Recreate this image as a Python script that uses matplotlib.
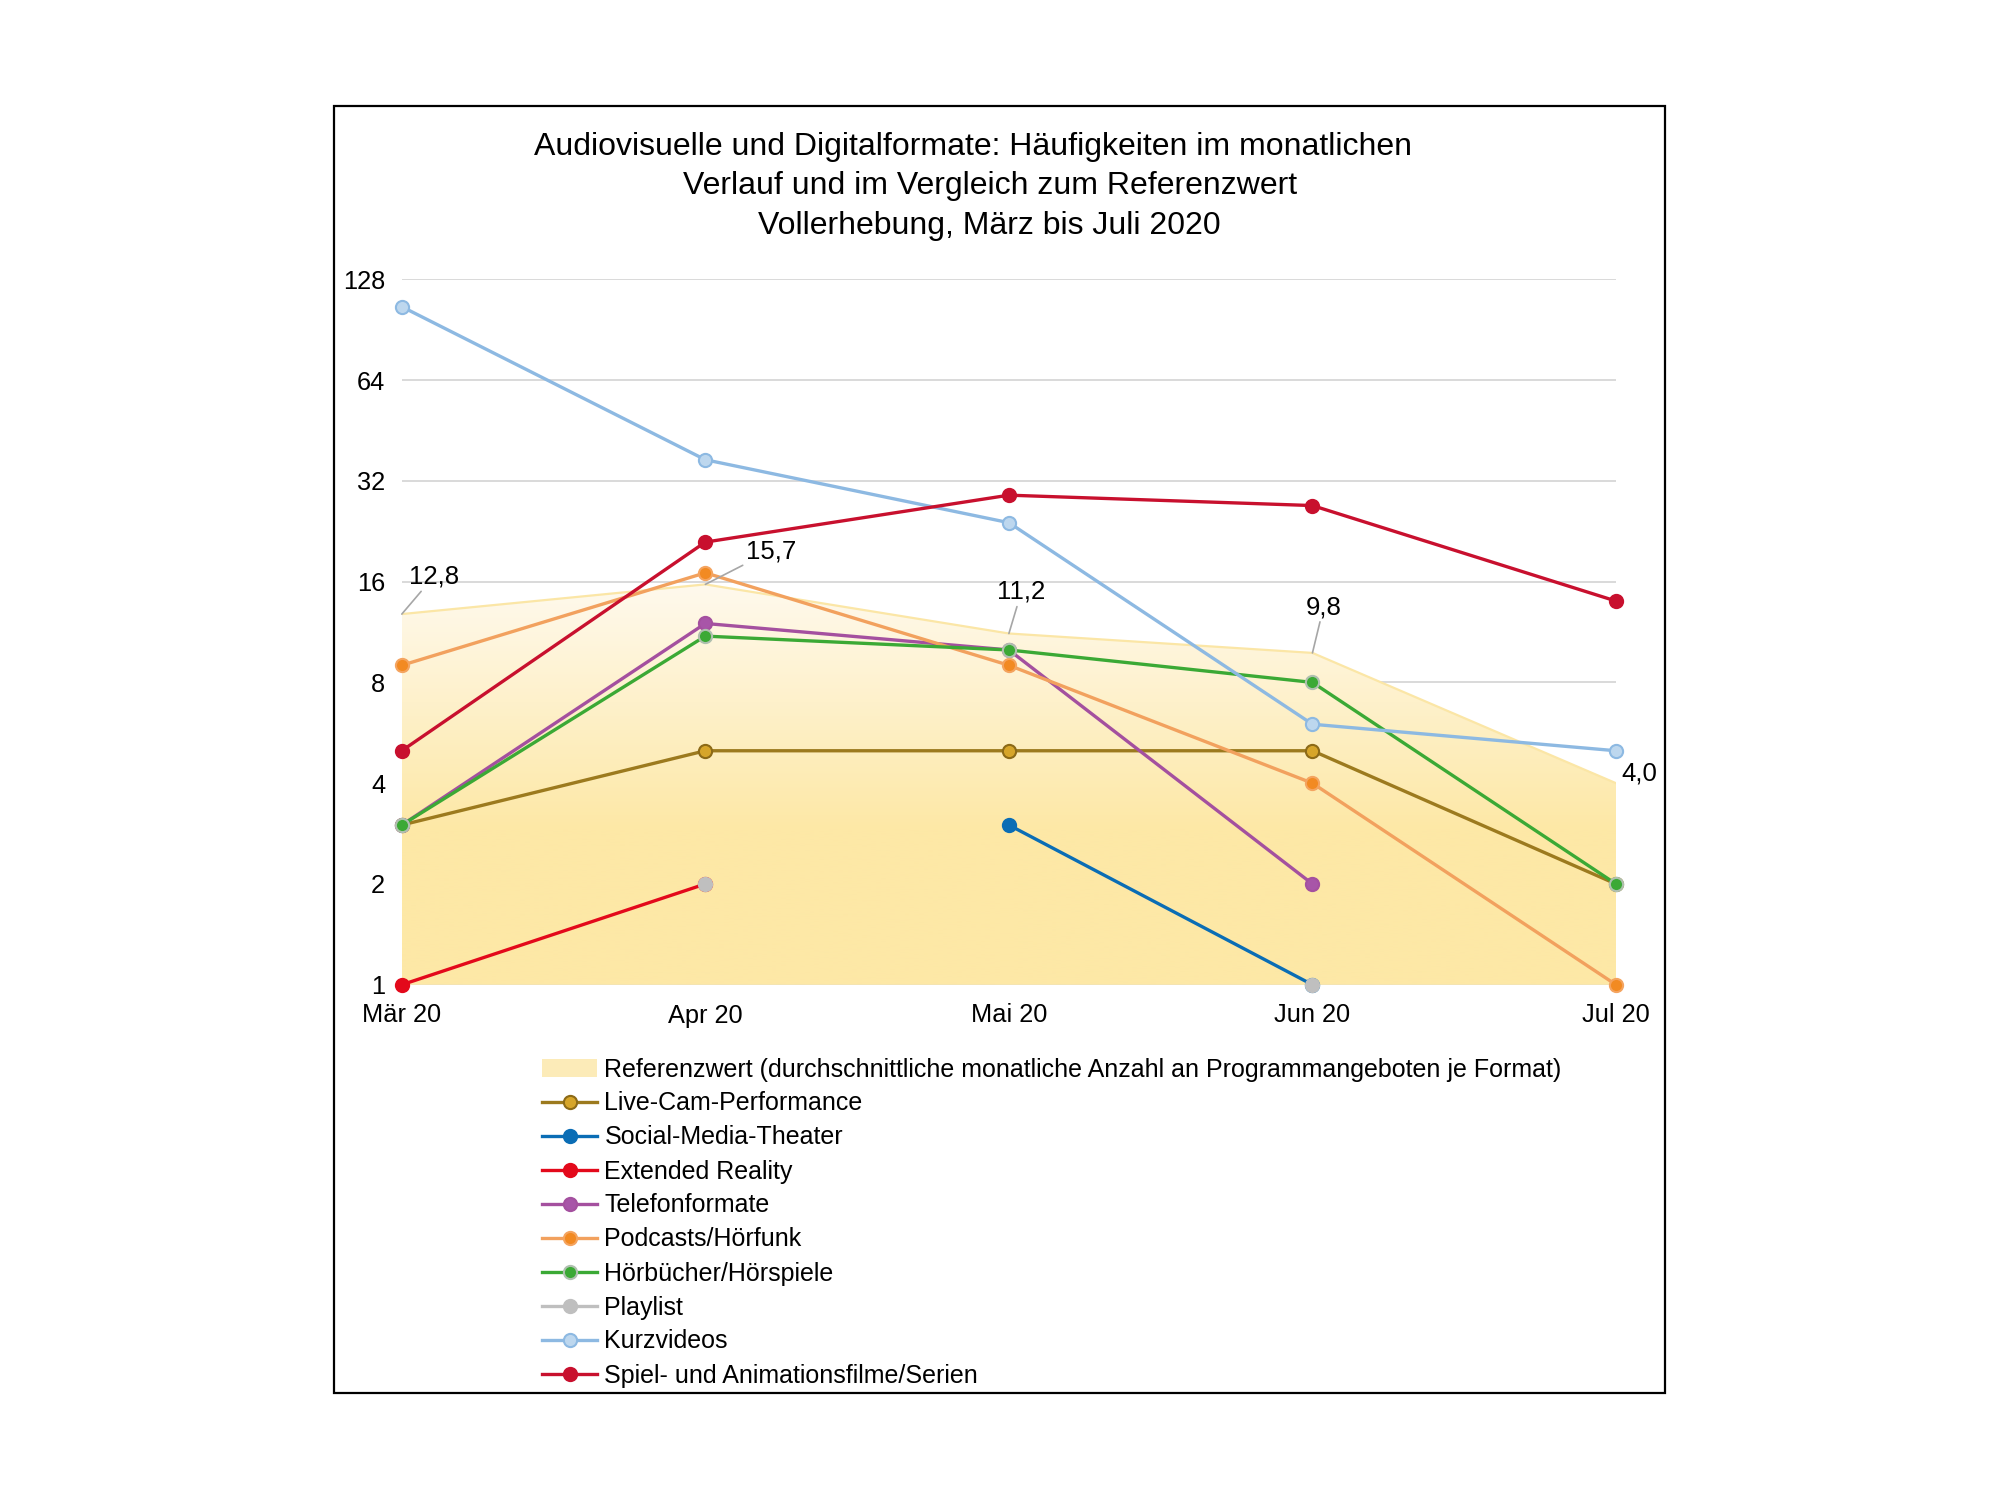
import numpy as np
import matplotlib
matplotlib.use('Agg')
import matplotlib.pyplot as plt
from matplotlib.colors import LinearSegmentedColormap
from matplotlib.lines import Line2D
from matplotlib.patches import Patch, Rectangle
from matplotlib.ticker import NullLocator

plt.rcParams['font.family'] = ['Liberation Sans', 'DejaVu Sans']

nan = np.nan

# Data
months = ['Mär 20', 'Apr 20', 'Mai 20', 'Jun 20', 'Jul 20']
referenz = [12.8, 15.7, 11.2, 9.8, 4.0]
live_cam = [3, 5, 5, 5, 2]
social_media = [nan, nan, 3, 1, nan]
extended_reality = [1, 2, nan, nan, nan]
telefon = [3, 12, 10, 2, nan]
podcasts = [9, 17, 9, 4, 1]
hoerbuecher = [3, 11, 10, 8, 2]
playlist = [nan, 2, nan, 1, nan]
kurzvideos = [106, 37, 24, 6, 5]
spiel = [5, 21, 29, 27, 14]

yticks = [1, 2, 4, 8, 16, 32, 64, 128]
ref_label = 'Referenzwert (durchschnittliche monatliche Anzahl an Programmangeboten je Format)'

# name, values, line colour, marker face, marker edge
series = [
    ('Live-Cam-Performance', live_cam, '#9C7A1E', '#D6A52A', '#8C6A17'),
    ('Social-Media-Theater', social_media, '#0A6DB5', '#0A6DB5', '#0A6DB5'),
    ('Extended Reality', extended_reality, '#E3091B', '#E3091B', '#E3091B'),
    ('Telefonformate', telefon, '#A4509F', '#A855A8', '#A4509F'),
    ('Podcasts/Hörfunk', podcasts, '#F2A15E', '#F28A22', '#F4A460'),
    ('Hörbücher/Hörspiele', hoerbuecher, '#3BA935', '#3BA935', '#AFC0AF'),
    ('Playlist', playlist, '#BFBFBF', '#BFBFBF', '#BFBFBF'),
    ('Kurzvideos', kurzvideos, '#8DB9E2', '#BDD7EE', '#8DB9E2'),
    ('Spiel- und Animationsfilme/Serien', spiel, '#C8102E', '#C8102E', '#C8102E'),
]

fig = plt.figure(figsize=(20, 15), dpi=100)
fig.patches.append(Rectangle((0.167, 0.0714), 0.6655, 0.858, transform=fig.transFigure,
                             fill=False, edgecolor='black', lw=1.6, zorder=0))

ax = fig.add_axes([0.2009, 0.3435, 0.6071, 0.4703])
x = np.arange(len(months))

ax.set_yscale('log', base=2)
ax.set_xlim(0, len(months) - 1)
ax.set_ylim(1, 128)
ax.set_autoscale_on(False)

# Referenzwert area with gradient
fill = ax.fill_between(x, 1, referenz, facecolor='none', edgecolor='none')
cmap = LinearSegmentedColormap.from_list(
    'ref', [(0, '#FDE8A6'), (0.22, '#FDE8A6'), (0.58, '#FFFAF0'), (1, '#FFFCF5')])
grad = np.linspace(0, 1, 256).reshape(-1, 1)
img = ax.imshow(grad, extent=[0, 1, 0, 1], transform=ax.transAxes, origin='lower',
                cmap=cmap, aspect='auto', zorder=1, interpolation='bilinear')
img.set_clip_path(fill.get_paths()[0], ax.transData)
ax.plot(x, referenz, color='#FBE6A6', lw=1.6, zorder=1.5)
ax.set_xlim(0, len(months) - 1)
ax.set_ylim(1, 128)

for name, vals, lc, mfc, mec in series:
    ax.plot(x, vals, color=lc, lw=2.4, marker='o', markersize=9.5,
            markerfacecolor=mfc, markeredgecolor=mec, markeredgewidth=1.5,
            zorder=3, clip_on=False)

# value labels of the reference line
offsets = [(23, 27), (47, 24), (9, 30), (8, 33), (17, 7)]
for i, (v, off) in enumerate(zip(referenz, offsets)):
    arrow = dict(arrowstyle='-', color='#A6A6A6', lw=1.2, shrinkA=0, shrinkB=0)
    ax.annotate(f'{v:.1f}'.replace('.', ','), xy=(i, v), xytext=off,
                textcoords='offset points', ha='center', va='center', fontsize=18.5,
                arrowprops=None if i == len(referenz) - 1 else arrow, zorder=4)

ax.set_yticks(yticks, labels=[str(t) for t in yticks])
ax.yaxis.set_minor_locator(NullLocator())
ax.set_xticks(x, labels=months)
ax.tick_params(axis='both', length=0, labelsize=18.3)
ax.tick_params(axis='y', pad=12)
ax.tick_params(axis='x', pad=13.5)
ax.yaxis.grid(True, color='#D9D9D9', lw=1.4, zorder=0)
ax.set_axisbelow(True)
for s in ax.spines.values():
    s.set_visible(False)

fig.text(0.4863, 0.9022, 'Audiovisuelle und Digitalformate: Häufigkeiten im monatlichen',
         ha='center', va='center', fontsize=23)
fig.text(0.4949, 0.8759, 'Verlauf und im Vergleich zum Referenzwert',
         ha='center', va='center', fontsize=23)
fig.text(0.4949, 0.8495, 'Vollerhebung, März bis Juli 2020',
         ha='center', va='center', fontsize=23)

handles = [Patch(facecolor='#FCEBB8', edgecolor='none')]
for name, vals, lc, mfc, mec in series:
    handles.append(Line2D([], [], color=lc, lw=2.4, marker='o', markersize=9.5,
                          markerfacecolor=mfc, markeredgecolor=mec, markeredgewidth=1.5))
labels = [ref_label] + [s[0] for s in series]
fig.legend(handles, labels, loc='upper left', bbox_to_anchor=(0.271, 0.295),
           frameon=False, fontsize=18, borderpad=0, borderaxespad=0,
           handlelength=2.2, handletextpad=0.3, labelspacing=0.40)

fig.savefig('out.png', dpi=100)
